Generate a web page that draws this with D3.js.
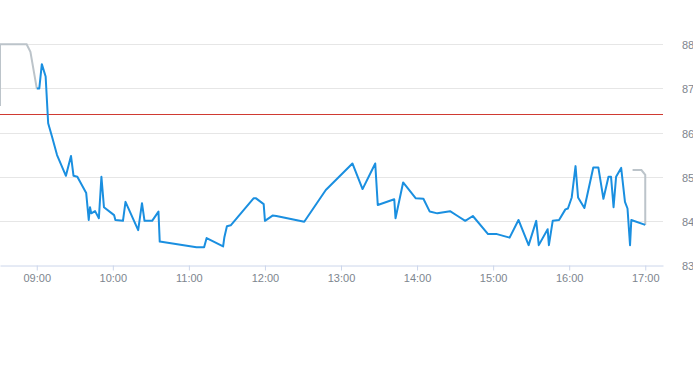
<!DOCTYPE html>
<html>
<head>
<meta charset="utf-8">
<script src="https://cdn.jsdelivr.net/npm/d3@7"></script>
<style>
  body { margin: 0; background: #fff; }
  svg { display: block; font-family: "Liberation Sans", Arial, sans-serif; }
</style>
</head>
<body>
<svg id="chart" width="693" height="365"></svg>
<script>
// session prices (blue)
const times = ['09:00', '09:02', '09:04', '09:07', '09:09', '09:12', '09:16', '09:23', '09:27', '09:29',
  '09:32', '09:39', '09:41', '09:42', '09:43', '09:46', '09:49', '09:51', '09:53', '10:01',
  '10:02', '10:08', '10:10', '10:20', '10:23', '10:25', '10:31', '10:36', '10:37', '11:06',
  '11:12', '11:14', '11:27', '11:28', '11:30', '11:33', '11:51', '11:53', '11:59', '12:00',
  '12:06', '12:09', '12:31', '12:48', '13:09', '13:17', '13:27', '13:29', '13:42', '13:43',
  '13:49', '13:59', '14:05', '14:10', '14:16', '14:26', '14:32', '14:38', '14:44', '14:56',
  '15:03', '15:13', '15:20', '15:28', '15:34', '15:36', '15:43', '15:44', '15:47', '15:52',
  '15:57', '15:59', '16:02', '16:05', '16:07', '16:12', '16:14', '16:19', '16:23', '16:27',
  '16:31', '16:33', '16:35', '16:37', '16:41', '16:44', '16:46', '16:48', '16:49', '17:00']
const prices = [87.00, 87.00, 87.55, 87.27, 86.21, 85.91, 85.49, 85.02, 85.47, 85.02,
  85.00, 84.63, 84.02, 84.31, 84.17, 84.22, 84.06, 85.00, 84.31, 84.13,
  84.02, 84.00, 84.43, 83.79, 84.40, 84.00, 84.00, 84.21, 83.53, 83.40,
  83.40, 83.61, 83.42, 83.63, 83.88, 83.90, 84.51, 84.51, 84.38, 84.00,
  84.12, 84.11, 83.98, 84.70, 85.30, 84.72, 85.30, 84.36, 84.49, 84.06,
  84.87, 84.51, 84.50, 84.21, 84.17, 84.22, 84.11, 84.00, 84.11, 83.70,
  83.70, 83.62, 84.02, 83.45, 84.00, 83.45, 83.81, 83.45, 84.00, 84.02,
  84.26, 84.28, 84.53, 85.24, 84.53, 84.29, 84.55, 85.21, 85.21, 84.50,
  85.00, 85.00, 84.31, 85.00, 85.20, 84.43, 84.28, 83.45, 84.02, 83.91]

// pre / post session (grey)
const preTimes = ['08:31', '08:31', '08:52', '08:55', '09:00']
const prePrices = [86.60, 88.00, 88.00, 87.83, 87.00]
const postTimes = ['16:50', '16:57', '17:00', '17:00']
const postPrices = [85.15, 85.15, 85.04, 83.91]

const refPrice = 86.40
const yTicks = [83, 84, 85, 86, 87, 88]
const xTicks = ['09:00', '10:00', '11:00', '12:00', '13:00', '14:00', '15:00', '16:00', '17:00']

const parseTime = d3.timeParse('%H:%M')
const toPoints = (ts, vs) => ts.map((t, i) => ({ t: parseTime(t), v: vs[i] }))
const crisp = v => Math.round(v) + 0.5

const svg = d3.select('#chart')
const plotRight = 663
const plotTop = 44.3
const plotBottom = 265
const labelColor = '#7d858e'

const x = d3.scaleTime()
  .domain([parseTime('08:31'), parseTime('17:14')])
  .range([0, plotRight])
const y = d3.scaleLinear()
  .domain([83, 88])
  .range([plotBottom, plotTop])

// grid
svg.append('g')
  .selectAll('line')
  .data(yTicks.slice(1))
  .join('line')
  .attr('x1', 0).attr('x2', plotRight)
  .attr('y1', d => crisp(y(d))).attr('y2', d => crisp(y(d)))
  .attr('stroke', '#e6e6e6')

// y labels on the right
svg.append('g')
  .selectAll('text')
  .data(yTicks)
  .join('text')
  .attr('x', 682)
  .attr('y', d => y(d) + 5)
  .attr('font-size', 11)
  .attr('fill', labelColor)
  .text(d => d)

// x axis
const xAxis = d3.axisBottom(x)
  .tickValues(xTicks.map(parseTime))
  .tickFormat(d3.timeFormat('%H:%M'))
  .tickSize(5)
  .tickSizeOuter(0)
const gx = svg.append('g')
  .attr('transform', `translate(0,${plotBottom + 0.5})`)
  .call(xAxis)
gx.select('.domain').attr('stroke', '#ccd6eb')
gx.selectAll('.tick line').attr('stroke', '#ccd6eb')
gx.selectAll('.tick text')
  .attr('font-family', '"Liberation Sans", Arial, sans-serif')
  .attr('font-size', 11)
  .attr('fill', labelColor)
  .attr('y', 9)

// reference line
svg.append('line')
  .attr('x1', 0).attr('x2', plotRight)
  .attr('y1', crisp(y(refPrice) - 0.5)).attr('y2', crisp(y(refPrice) - 0.5))
  .attr('stroke', '#d03a32')
  .attr('stroke-width', 1)

const line = d3.line()
  .x(d => x(d.t))
  .y(d => y(d.v))

svg.append('path')
  .datum(toPoints(preTimes, prePrices))
  .attr('d', line)
  .attr('fill', 'none')
  .attr('stroke', '#bcc4ca')
  .attr('stroke-width', 2)

svg.append('path')
  .datum(toPoints(postTimes, postPrices))
  .attr('d', line)
  .attr('fill', 'none')
  .attr('stroke', '#bcc4ca')
  .attr('stroke-width', 2)

svg.append('path')
  .datum(toPoints(times, prices))
  .attr('d', line)
  .attr('fill', 'none')
  .attr('stroke', '#1a8fe0')
  .attr('stroke-width', 2)
  .attr('stroke-linejoin', 'round')
</script>
</body>
</html>
